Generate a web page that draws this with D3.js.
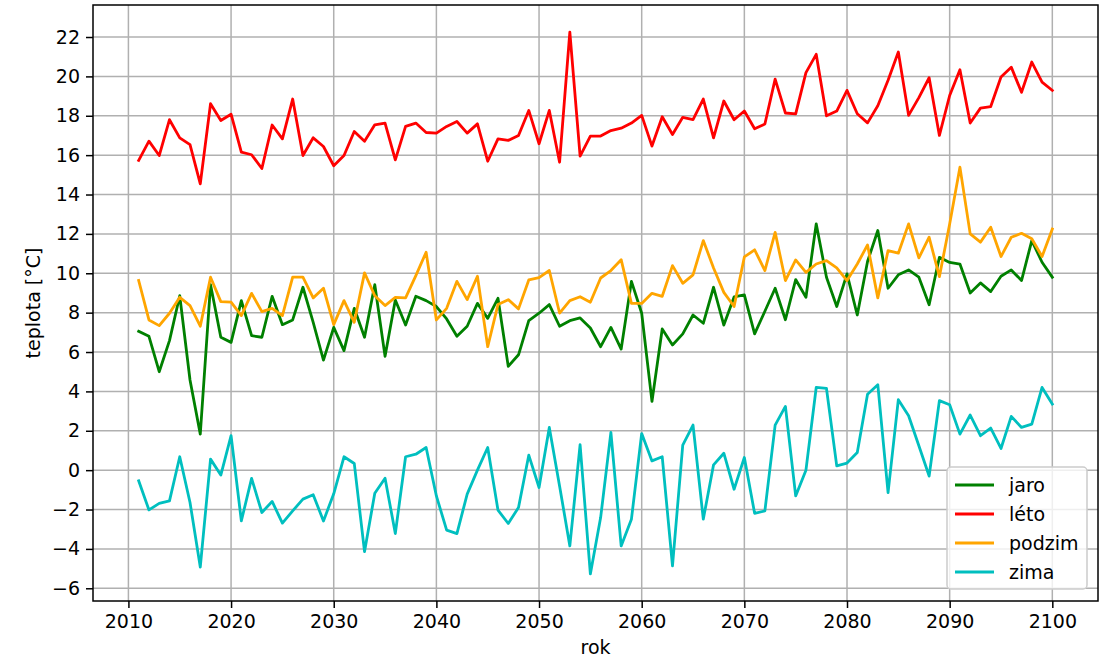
<!DOCTYPE html>
<html>
<head>
<meta charset="utf-8">
<script src="https://cdn.jsdelivr.net/npm/d3@7"></script>
<style>
  html, body { margin: 0; padding: 0; background: #fff; }
  svg { display: block; font-family: "DejaVu Sans", sans-serif; }
</style>
</head>
<body>
<svg id="chart" width="1101" height="660"></svg>
<script>
// Seasonal mean temperatures, 2011–2100
const firstYear = 2011;
const lastYear = 2100;
const years = d3.range(firstYear, lastYear + 1);

const jaro = [
  7.05, 6.8, 5.0, 6.58, 8.86, 4.58, 1.83, 9.42, 6.75, 6.49,
  8.61, 6.83, 6.75, 8.83, 7.39, 7.63, 9.29, 7.51, 5.59, 7.25,
  6.07, 8.22, 6.75, 9.42, 5.78, 8.64, 7.37, 8.83, 8.61, 8.31,
  7.68, 6.8, 7.31, 8.47, 7.71, 8.73, 5.27, 5.86, 7.59, 7.97,
  8.41, 7.31, 7.59, 7.73, 7.22, 6.27, 7.25, 6.15, 9.59, 7.97,
  3.49, 7.17, 6.36, 6.92, 7.88, 7.46, 9.29, 7.37, 8.8, 8.9,
  6.92, 8.07, 9.24, 7.64, 9.68, 8.78, 12.51, 9.8, 8.31, 9.97,
  7.88, 10.6, 12.17, 9.24, 9.92, 10.17, 9.8, 8.4, 10.81, 10.55,
  10.47, 9.0, 9.51, 9.07, 9.85, 10.17, 9.63, 11.66, 10.56, 9.8
];

const leto = [
  15.73, 16.71, 15.98, 17.8, 16.88, 16.53, 14.54, 18.61, 17.76, 18.08,
  16.15, 16.02, 15.32, 17.53, 16.83, 18.85, 15.98, 16.88, 16.44, 15.46,
  15.98, 17.2, 16.7, 17.54, 17.63, 15.76, 17.46, 17.63, 17.15, 17.12,
  17.46, 17.71, 17.12, 17.59, 15.69, 16.83, 16.75, 17.0, 18.27, 16.58,
  18.27, 15.64, 22.25, 15.95, 16.97, 16.97, 17.25, 17.37, 17.63, 18.02,
  16.46, 17.95, 17.05, 17.92, 17.8, 18.85, 16.88, 18.75, 17.8, 18.24,
  17.34, 17.58, 19.86, 18.14, 18.1, 20.19, 21.12, 18.0, 18.24, 19.29,
  18.1, 17.64, 18.51, 19.8, 21.24, 18.02, 18.92, 19.93, 17.0, 19.03,
  20.34, 17.63, 18.39, 18.47, 19.97, 20.47, 19.19, 20.73, 19.71, 19.29
];

const podzim = [
  9.63, 7.63, 7.34, 7.97, 8.78, 8.36, 7.31, 9.8, 8.56, 8.53,
  7.85, 8.98, 8.05, 8.22, 7.85, 9.8, 9.8, 8.75, 9.24, 7.39,
  8.61, 7.51, 10.02, 8.86, 8.36, 8.78, 8.75, 9.88, 11.07, 7.63,
  8.22, 9.59, 8.66, 9.85, 6.27, 8.41, 8.66, 8.19, 9.66, 9.78,
  10.14, 7.98, 8.61, 8.81, 8.53, 9.76, 10.14, 10.69, 8.47, 8.47,
  8.98, 8.83, 10.39, 9.49, 9.92, 11.66, 10.27, 9.03, 8.31, 10.83,
  11.19, 10.14, 12.08, 9.63, 10.68, 10.05, 10.47, 10.64, 10.27, 9.63,
  10.47, 11.44, 8.75, 11.15, 11.02, 12.51, 10.78, 11.83, 9.83, 12.5,
  15.39, 12.0, 11.58, 12.34, 10.85, 11.83, 12.03, 11.75, 10.85, 12.25
];

const zima = [
  -0.54, -2.02, -1.69, -1.56, 0.68, -1.64, -4.92, 0.56, -0.25, 1.75,
  -2.58, -0.42, -2.15, -1.59, -2.69, -2.07, -1.47, -1.25, -2.58, -1.2,
  0.68, 0.34, -4.14, -1.17, -0.41, -3.22, 0.68, 0.81, 1.15, -1.31,
  -3.05, -3.22, -1.22, 0.0, 1.15, -2.03, -2.71, -1.9, 0.76, -0.88,
  2.17, -0.8, -3.85, 1.29, -5.27, -2.41, 1.92, -3.85, -2.49, 1.86,
  0.47, 0.68, -4.86, 1.27, 2.29, -2.49, 0.27, 0.86, -0.97, 0.64,
  -2.19, -2.07, 2.29, 3.24, -1.31, 0.0, 4.2, 4.15, 0.22, 0.36,
  0.9, 3.86, 4.34, -1.14, 3.58, 2.76, 1.24, -0.3, 3.53, 3.32,
  1.83, 2.8, 1.75, 2.14, 1.1, 2.73, 2.17, 2.34, 4.2, 3.36
];

const seriesNames = ["jaro", "léto", "podzim", "zima"];
const seriesValues = [jaro, leto, podzim, zima];
const seriesColors = ["#008000", "#ff0000", "#ffa500", "#00bfbf"];

const xTicks = d3.range(2010, 2101, 10);
const yTicks = d3.range(-6, 23, 2);
const xLabel = "rok";
const yLabel = "teplota [°C]";

// Layout
const svg = d3.select("#chart");
const plot = { left: 93, right: 1098, top: 5, bottom: 601 };
const fontSize = "19px";

// Axis limits padded by 5 % of the data range on each side
function padded(ext) {
  const pad = (ext[1] - ext[0]) * 0.05;
  return [ext[0] - pad, ext[1] + pad];
}
const allValues = seriesValues.flat();

const x = d3.scaleLinear()
  .domain(padded([firstYear, lastYear]))
  .range([plot.left, plot.right]);
const y = d3.scaleLinear()
  .domain(padded(d3.extent(allValues)))
  .range([plot.bottom, plot.top]);

const fmtY = v => (v < 0 ? "\u2212" + Math.abs(v) : String(v));

// Grid
const grid = svg.append("g").attr("class", "grid");
grid.selectAll("line.gx").data(xTicks).join("line")
  .attr("x1", d => x(d)).attr("x2", d => x(d))
  .attr("y1", plot.top).attr("y2", plot.bottom)
  .attr("stroke", "#b0b0b0").attr("stroke-width", 1.5);
grid.selectAll("line.gy").data(yTicks).join("line")
  .attr("x1", plot.left).attr("x2", plot.right)
  .attr("y1", d => y(d)).attr("y2", d => y(d))
  .attr("stroke", "#b0b0b0").attr("stroke-width", 1.5);

// Series lines
const line = d3.line()
  .x((d, i) => x(years[i]))
  .y(d => y(d));

svg.append("g").attr("class", "series")
  .selectAll("path")
  .data(seriesValues)
  .join("path")
  .attr("d", d => line(d))
  .attr("fill", "none")
  .attr("stroke", (d, i) => seriesColors[i])
  .attr("stroke-width", 2.8)
  .attr("stroke-linejoin", "round")
  .attr("stroke-linecap", "square");

// Axes
const xAxis = svg.append("g")
  .attr("transform", `translate(0,${plot.bottom})`)
  .call(d3.axisBottom(x).tickValues(xTicks).tickFormat(d3.format("d")).tickSize(7).tickPadding(7));
const yAxis = svg.append("g")
  .attr("transform", `translate(${plot.left},0)`)
  .call(d3.axisLeft(y).tickValues(yTicks).tickFormat(fmtY).tickSize(7).tickPadding(6));

[xAxis, yAxis].forEach(a => {
  a.select(".domain").remove();
  a.selectAll(".tick line").attr("stroke", "#000").attr("stroke-width", 1.5);
  a.selectAll(".tick text")
    .attr("fill", "#000")
    .style("font-family", "'DejaVu Sans', sans-serif")
    .style("font-size", fontSize);
});

// Frame
svg.append("rect")
  .attr("x", plot.left).attr("y", plot.top)
  .attr("width", plot.right - plot.left)
  .attr("height", plot.bottom - plot.top)
  .attr("fill", "none")
  .attr("stroke", "#000")
  .attr("stroke-width", 1.5);

// Axis titles
svg.append("text")
  .attr("x", (plot.left + plot.right) / 2)
  .attr("y", 654)
  .attr("text-anchor", "middle")
  .style("font-size", fontSize)
  .text(xLabel);
svg.append("text")
  .attr("transform", `translate(40,${(plot.top + plot.bottom) / 2}) rotate(-90)`)
  .attr("text-anchor", "middle")
  .style("font-size", fontSize)
  .text(yLabel);

// Legend (lower right)
const lg = { x: 947, y: 467, w: 140, h: 122, row: 29 };
const legend = svg.append("g").attr("transform", `translate(${lg.x},${lg.y})`);
legend.append("rect")
  .attr("width", lg.w).attr("height", lg.h)
  .attr("rx", 4)
  .attr("fill", "#fff").attr("fill-opacity", 0.8)
  .attr("stroke", "#cccccc").attr("stroke-width", 1.5);
const items = legend.selectAll("g.item").data(seriesNames).join("g")
  .attr("transform", (d, i) => `translate(0,${18 + i * lg.row})`);
items.append("line")
  .attr("x1", 8).attr("x2", 47)
  .attr("stroke", (d, i) => seriesColors[i])
  .attr("stroke-width", 2.8);
items.append("text")
  .attr("x", 62).attr("y", 0)
  .attr("dy", "0.35em")
  .style("font-size", fontSize)
  .text(d => d);
</script>
</body>
</html>
